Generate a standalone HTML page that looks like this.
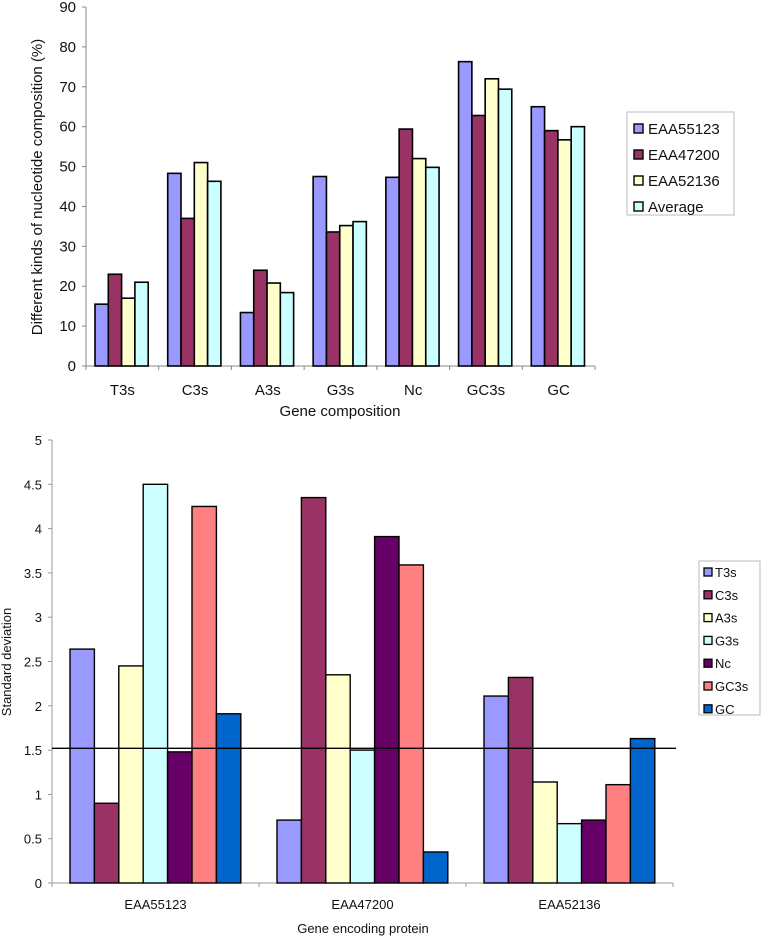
<!DOCTYPE html>
<html><head><meta charset="utf-8"><style>
html,body{margin:0;padding:0;background:#fff;}
svg{display:block;font-family:"Liberation Sans",Arial,sans-serif;}
</style></head><body>
<svg id="chart" width="761" height="939" viewBox="0 0 761 939" xmlns="http://www.w3.org/2000/svg"></svg>
<script>
// Top chart data
const topCategories = ["T3s","C3s","A3s","G3s","Nc","GC3s","GC"];
const topSeriesNames = ["EAA55123","EAA47200","EAA52136","Average"];
const topEAA55123 = [15.5,48.3,13.4,47.5,47.3,76.3,65];
const topEAA47200 = [23,37,24,33.6,59.4,62.8,59];
const topEAA52136 = [17,51,20.8,35.2,52,72,56.7];
const topAverage = [21,46.3,18.4,36.2,49.8,69.4,60];
const topTicks = [0,10,20,30,40,50,60,70,80,90];
// Bottom chart data
const botCategories = ["EAA55123","EAA47200","EAA52136"];
const botSeriesNames = ["T3s","C3s","A3s","G3s","Nc","GC3s","GC"];
const botT3s = [2.64,0.71,2.11];
const botC3s = [0.9,4.35,2.32];
const botA3s = [2.45,2.35,1.14];
const botG3s = [4.5,1.5,0.67];
const botNc = [1.48,3.91,0.71];
const botGC3s = [4.25,3.59,1.11];
const botGC = [1.91,0.35,1.63];
const botTicks = [0,0.5,1,1.5,2,2.5,3,3.5,4,4.5,5];
const refLine = 1.52;

const NS="http://www.w3.org/2000/svg";
const svg=document.getElementById('chart');
function mk(tag,attrs,parent){const e=document.createElementNS(NS,tag);for(const k in attrs)e.setAttribute(k,attrs[k]);(parent||svg).appendChild(e);return e;}
function txt(s,attrs,parent){const e=mk('text',attrs,parent);e.textContent=s;return e;}

// ---- TOP CHART ----
const tX0=86,tX1=595,tY0=366,tY1=7,tMax=90;
const tCatW=(tX1-tX0)/topCategories.length;
const ty=v=>tY0-(v/tMax)*(tY0-tY1);
const topColors=["#9999ff","#993366","#ffffcc","#ccffff"];
const topData=[topEAA55123,topEAA47200,topEAA52136,topAverage];
const gTop=mk('g',{});


const tAxis=mk('line',{x1:tX0,y1:tY1,x2:tX0,y2:tY0,stroke:'#888','stroke-width':1},gTop);


const tXAxis=mk('line',{x1:tX0,y1:tY0,x2:tX1,y2:tY0,stroke:'#888','stroke-width':1},gTop);


topTicks.forEach(t=>{
  mk('line',{x1:tX0-4,y1:ty(t),x2:tX0,y2:ty(t),stroke:'#888'},gTop);
  const l=txt(String(t),{x:tX0-10,y:ty(t)+5,'text-anchor':'end','font-size':15,fill:'#111'},gTop);
  
  
});
for(let i=0;i<=topCategories.length;i++){mk('line',{x1:tX0+i*tCatW,y1:tY0,x2:tX0+i*tCatW,y2:tY0+4,stroke:'#888'},gTop);}
const tBw=13.3,tOff=9;
topCategories.forEach((c,i)=>{
  topData.forEach((s,j)=>{
    const x=tX0+i*tCatW+tOff+j*tBw;
    const r=mk('rect',{x:x,y:ty(s[i]),width:tBw,height:tY0-ty(s[i]),fill:topColors[j],stroke:'#000','stroke-width':1.6},gTop);
    
    
  });
  const l=txt(c,{x:tX0+i*tCatW+tCatW/2,y:395,'text-anchor':'middle','font-size':15,fill:'#111'},gTop);
  
  
});
const tXT=txt('Gene composition',{x:340,y:416,'text-anchor':'middle','font-size':15,fill:'#111'},gTop);


const tYT=txt('Different kinds of nucleotide composition (%)',{x:0,y:0,'text-anchor':'middle','font-size':15,fill:'#111',transform:'translate(42,187) rotate(-90)'},gTop);


const tLeg=mk('g',{},gTop);


mk('rect',{x:627,y:112,width:107,height:103,fill:'#fff',stroke:'#bbb'},tLeg);
topSeriesNames.forEach((n,j)=>{
  const yy=124+j*26;
  mk('rect',{x:634,y:yy,width:9,height:9,fill:topColors[j],stroke:'#000','stroke-width':1.4},tLeg);
  const l=txt(n,{x:648,y:yy+10,'font-size':15,fill:'#111'},tLeg);
  
  
});

// ---- BOTTOM CHART ----
const bX0=52,bX1=673,bY0=883,bMax=5,bPx=88.6;
const bCatW=(bX1-bX0)/botCategories.length;
const by=v=>bY0-v*bPx;
const botColors=["#9999ff","#993366","#ffffcc","#ccffff","#660066","#ff8080","#0066cc"];
const botData=[botT3s,botC3s,botA3s,botG3s,botNc,botGC3s,botGC];
const gBot=mk('g',{});


const bAxis=mk('line',{x1:bX0,y1:by(bMax),x2:bX0,y2:bY0,stroke:'#999'},gBot);


const bXAxis=mk('line',{x1:bX0,y1:bY0,x2:bX1,y2:bY0,stroke:'#999'},gBot);


botTicks.forEach(t=>{
  mk('line',{x1:bX0-4,y1:by(t),x2:bX0,y2:by(t),stroke:'#999'},gBot);
  const l=txt(String(t),{x:bX0-10,y:by(t)+5,'text-anchor':'end','font-size':13,fill:'#111'},gBot);
  
  
});
for(let i=0;i<=botCategories.length;i++){mk('line',{x1:bX0+i*bCatW,y1:bY0,x2:bX0+i*bCatW,y2:bY0+4,stroke:'#999'},gBot);}
const bBw=24.4,bOff=18;
botCategories.forEach((c,i)=>{
  botData.forEach((s,j)=>{
    const x=bX0+i*bCatW+bOff+j*bBw;
    const r=mk('rect',{x:x,y:by(s[i]),width:bBw,height:bY0-by(s[i]),fill:botColors[j],stroke:'#000','stroke-width':1.4},gBot);
    
    
  });
  const l=txt(c,{x:bX0+i*bCatW+bCatW/2,y:909,'text-anchor':'middle','font-size':13,fill:'#111'},gBot);
  
  
});
const rl=mk('line',{x1:bX0,y1:by(refLine),x2:676,y2:by(refLine),stroke:'#000','stroke-width':1.3},gBot);


const bXT=txt('Gene encoding protein',{x:363,y:933,'text-anchor':'middle','font-size':13,fill:'#111'},gBot);


const bYT=txt('Standard deviation',{x:0,y:0,'text-anchor':'middle','font-size':13,fill:'#111',transform:'translate(11,662) rotate(-90)'},gBot);


const bLeg=mk('g',{},gBot);


mk('rect',{x:699,y:561,width:61,height:154,fill:'#fff',stroke:'#bbb'},bLeg);
botSeriesNames.forEach((n,j)=>{
  const yy=568+j*22.8;
  mk('rect',{x:704,y:yy,width:8,height:8,fill:botColors[j],stroke:'#000','stroke-width':1.3},bLeg);
  const l=txt(n,{x:715,y:yy+9,'font-size':13,fill:'#111'},bLeg);
  
  
});
</script>
</body></html>
